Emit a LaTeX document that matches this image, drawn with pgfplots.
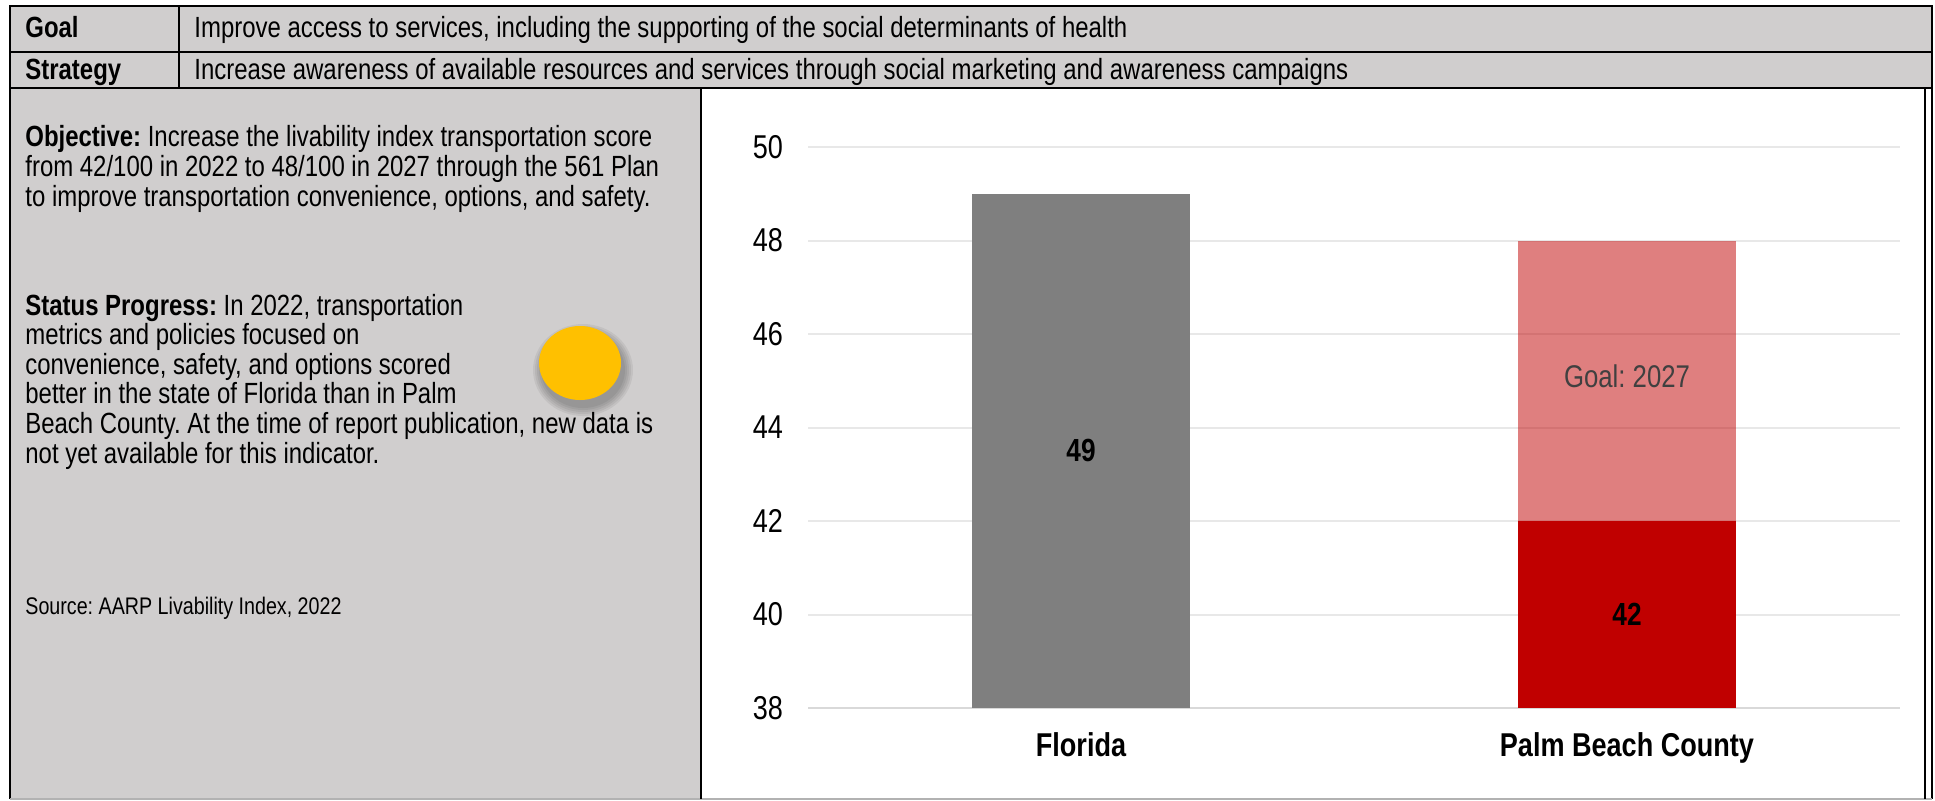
\documentclass[border=0pt]{standalone}
\usepackage{fontspec}
\setmainfont{Liberation Sans}[FakeStretch=0.82]
\usepackage{pgfplots}
\pgfplotsset{compat=1.18}
\definecolor{panelgray}{HTML}{D0CECE}
\definecolor{bargray}{HTML}{7F7F7F}
\definecolor{darkred}{HTML}{C00000}
\definecolor{gridgray}{HTML}{E8E8E8}
\definecolor{axisgray}{HTML}{D9D9D9}
\definecolor{goalgold}{HTML}{FFC000}
\definecolor{labelgray}{HTML}{404040}
\newcommand{\body}{\fontsize{14.6}{15}\selectfont}
\frenchspacing
\begin{document}
\begin{tikzpicture}[x=0.5pt,y=-0.5pt]
\path[fill=white] (0,0) rectangle (1935,800);
% header rows and left panel
\fill[panelgray] (10,6) rectangle (1932,88);
\fill[panelgray] (10,88) rectangle (701,799);
% header text
\node[anchor=base west, inner sep=0, font=\body\bfseries] at (25,37) {Goal};
\node[anchor=base west, inner sep=0, font=\body] at (194,37) {Improve access to services, including the supporting of the social determinants of health};
\node[anchor=base west, inner sep=0, font=\body\bfseries] at (25,79) {Strategy};
\node[anchor=base west, inner sep=0, font=\body] at (194,79) {Increase awareness of available resources and services through social marketing and awareness campaigns};
% objective
\node[anchor=base west, inner sep=0, font=\body] at (25,146) {\textbf{Objective:} Increase the livability index transportation score};
\node[anchor=base west, inner sep=0, font=\body] at (25,176) {from 42/100 in 2022 to 48/100 in 2027 through the 561 Plan};
\node[anchor=base west, inner sep=0, font=\body] at (25,206) {to improve transportation convenience, options, and safety.};
% status
\node[anchor=base west, inner sep=0, font=\body] at (25,315) {\textbf{Status Progress:} In 2022, transportation};
\node[anchor=base west, inner sep=0, font=\body] at (25,344.6) {metrics and policies focused on};
\node[anchor=base west, inner sep=0, font=\body] at (25,374.2) {convenience, safety, and options scored};
\node[anchor=base west, inner sep=0, font=\body] at (25,403.8) {better in the state of Florida than in Palm};
\node[anchor=base west, inner sep=0, font=\body] at (25,433.4) {Beach County. At the time of report publication, new data is};
\node[anchor=base west, inner sep=0, font=\body] at (25,463) {not yet available for this indicator.};
% source
\node[anchor=base west, inner sep=0, font=\fontsize{12}{14}\selectfont] at (25,614) {Source: AARP Livability Index, 2022};
% status dot with soft shadow
\foreach \r in {10,8,6,4,2} {
  \fill[black, opacity=0.06] (583,370) ellipse ({40+\r} and {36+\r});
}
\fill[goalgold] (580,363) ellipse (41 and 37);
% lines
\draw[line width=1.3pt] (10,799) -- (10,6) -- (1932,6) -- (1932,799);
\draw[line width=0.6pt, gray!60] (10,799) -- (1932,799);
\draw[line width=1.3pt] (10,52) -- (1932,52);
\draw[line width=1.3pt] (10,88) -- (1932,88);
\draw[line width=1pt] (179,6) -- (179,88);
\draw[line width=1.2pt] (701,88) -- (701,799);
\draw[line width=0.6pt] (1925,88) -- (1925,799);
% chart
\begin{axis}[
  at={(404pt,-354pt)}, anchor=south west,
  scale only axis, width=546pt, height=280.5pt,
  xmin=-0.5, xmax=1.5, ymin=38, ymax=50,
  ytick={38,40,...,50},
  xtick={0,1}, xticklabels={Florida, Palm Beach County},
  axis x line*=bottom, axis y line*=left,
  axis line style={-},
  x axis line style={draw=axisgray, line width=1.2pt},
  y axis line style={draw=none},
  major tick length=0pt,
  ymajorgrids, grid style={gridgray, line width=1pt},
  /pgf/number format/assume math mode=true,
  tick label style={font=\fontsize{16.5}{18}\selectfont, text=black},
  xticklabel style={font=\fontsize{16.5}{18}\selectfont\bfseries, yshift=-9pt},
  yticklabel style={xshift=-9pt},
  clip=true,
]
\addplot[ybar, bar width=0.4, bar shift=0pt, fill=bargray, draw=none] coordinates {(0,49)};
\addplot[ybar, bar width=0.4, bar shift=0pt, fill=darkred, fill opacity=0.5, draw=none] coordinates {(1,48)};
\addplot[ybar, bar width=0.4, bar shift=0pt, fill=darkred, draw=none] coordinates {(1,42)};
\node[font=\fontsize{16}{18}\selectfont\bfseries] at (axis cs:0,43.5) {49};
\node[font=\fontsize{16}{18}\selectfont\bfseries] at (axis cs:1,40) {42};
\node[font=\fontsize{15.7}{18}\selectfont, text=labelgray] at (axis cs:1,45.1) {Goal: 2027};
\end{axis}
\end{tikzpicture}
\end{document}
